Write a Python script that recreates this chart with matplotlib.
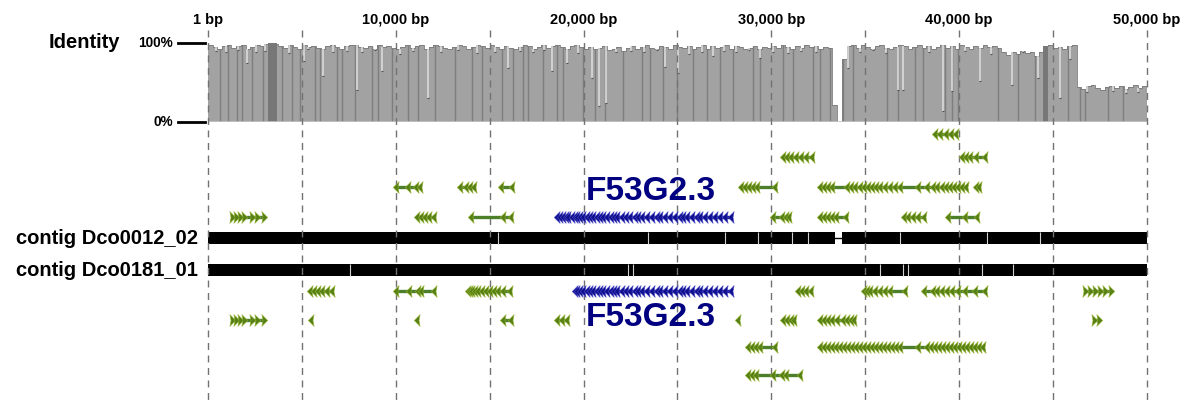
import numpy as np
import matplotlib.pyplot as plt
from matplotlib.path import Path

plt.rcParams['font.family'] = ['Liberation Sans', 'DejaVu Sans']

# ---- identity track: percent identity in 250 bp windows ----
identity = [
    97, 95, 93, 96, 98, 94, 96, 97, 92, 95, 98, 96, 99, 100, 99, 96, 94, 97, 95, 93,
    97, 95, 96, 94, 92, 96, 97, 95, 93, 96, 97, 98, 95, 94, 96, 93, 97, 95, 96, 94,
    92, 95, 97, 94, 96, 98, 93, 95, 97, 96, 94, 92, 95, 97, 96, 93, 95, 98, 96, 94,
    97, 95, 93, 96, 94, 92, 95, 97, 96, 93, 95, 97, 94, 96, 98, 95, 93, 96, 97, 95,
    93, 95, 92, 94, 96, 91, 93, 95, 90, 94, 96, 93, 95, 97, 94, 92, 96, 95, 93, 97,
    95, 94, 96, 92, 95, 97, 93, 96, 94, 95, 97, 93, 96, 95, 92, 94, 96, 93, 95, 94,
    96, 94, 97, 95, 93, 96, 94, 97, 95, 96, 93, 95, 94, 22, 0, 80, 96, 98, 94, 97,
    95, 93, 96, 98, 94, 92, 95, 97, 96, 93, 95, 98, 94, 96, 92, 95, 97, 94, 96, 93,
    97, 95, 93, 96, 94, 97, 95, 96, 94, 88, 85, 89, 86, 90, 87, 89, 84, 88, 96, 97,
    94, 95, 92, 96, 97, 44, 42, 45, 47, 43, 41, 44, 46, 43, 45, 42, 44, 47, 43, 45,
]
window_kb = 0.25

# narrow drops in identity (kb, percent)
dip_kb = [2.08, 5.11, 6.12, 7.93, 9.27, 11.72, 15.97, 18.32, 19.12, 20.45, 20.82,
          21.19, 24.33, 25.03, 26.89, 29.39, 34.08, 36.74, 37.01, 39.14, 39.62,
          41.11, 42.81, 44.20, 45.37, 47.60,
          0.45, 0.95, 1.60, 2.55, 3.05, 4.30, 5.35, 6.65, 7.40, 8.20, 8.90, 10.20,
          10.90, 12.40, 13.30, 14.30, 15.30, 16.60, 17.30, 17.90, 19.70, 21.70,
          22.50, 23.20, 23.90, 25.60, 26.30, 27.50, 28.10, 28.80, 30.10, 30.90,
          31.60, 32.40, 34.70, 35.40, 36.10, 38.40, 40.30, 41.70, 43.40, 45.90,
          46.80, 48.20, 48.90, 49.50]
dip_pct = [75, 77, 58, 40, 65, 30, 68, 65, 75, 56, 20,
           24, 70, 62, 84, 81, 68, 40, 40, 14, 39,
           52, 47, 56, 30, 58,
           90, 88, 91, 89, 90, 87, 92, 88, 90, 89, 91, 86,
           90, 88, 91, 87, 89, 90, 88, 91, 87, 89,
           90, 88, 91, 86, 89, 90, 88, 91, 89, 87,
           90, 88, 89, 91, 87, 88, 90, 86, 89, 80,
           38, 39, 37, 38]

# windows covered by more than one alignment (kb)
dark_kb = [0.64, 1.07, 1.54, 1.81, 2.34, 2.93, 3.94, 4.47, 4.90, 5.70, 5.96, 6.87,
           7.14, 7.83, 8.73, 9.05, 9.80, 10.65, 11.18, 12.09, 13.15, 14.06, 14.59,
           15.66, 16.24, 16.77, 17.04, 17.84, 18.58, 18.90, 19.97, 20.61, 21.14,
           22.10, 23.11, 23.54, 24.23, 24.97, 25.83, 26.57, 27.26, 27.96, 29.02,
           29.39, 30.62, 31.15, 32.22, 32.59, 33.12, 33.81, 34.35, 36.16, 36.74,
           37.65, 38.07, 39.24, 39.62, 39.94, 42.07, 43.13, 44.04, 45.79, 46.43,
           46.70, 47.92, 48.72]
dark_blocks_kb = [(3.20, 3.67), (44.46, 44.73)]

tick_kb = [0, 10, 20, 30, 40, 50]
tick_labels = ['1 bp', '10,000 bp', '20,000 bp', '30,000 bp', '40,000 bp', '50,000 bp']
grid_kb = np.arange(0, 50.1, 5)

# ---- contigs ----
contig_names = ['contig Dco0012_02', 'contig Dco0181_01']
contig_len_kb = 50.0
contig1_gap_kb = (33.39, 33.76)
contig1_breaks_kb = [15.44, 23.43, 27.53, 29.29, 31.10, 31.95, 36.85, 41.48, 44.30]
contig2_breaks_kb = [7.56, 22.36, 22.63, 35.78, 37.01, 37.27, 41.21, 42.87]

# ---- gene models: (strand, exon positions in kb) ----
genes_above = [
    [('-', [38.71, 38.98, 39.30, 39.56, 39.83])],
    [('-', [30.62, 30.83, 31.04, 31.31, 31.58, 31.84, 32.16]),
     ('-', [40.15, 40.36, 40.58, 40.89, 41.37])],
    [('-', [10.01, 10.65, 11.08, 11.29]),
     ('-', [13.42, 13.74, 13.95, 14.16]),
     ('-', [15.60, 16.19]),
     ('-', [28.38, 28.59, 28.81, 29.02, 29.23, 30.19]),
     ('-', [32.59, 32.80, 33.01, 33.23, 34.03, 34.24, 34.45, 34.72, 34.93, 35.14,
            35.36, 35.57, 35.78, 36.05, 36.32, 36.58, 36.85, 37.81, 38.29, 38.61,
            38.82, 39.08, 39.30, 39.51, 39.72, 39.94, 40.15, 40.36]),
     ('-', [40.89, 41.05])],
    [('+', [1.28, 1.49, 1.70, 1.92, 2.34, 2.61, 2.98]),
     ('-', [11.13, 11.34, 11.55, 11.77, 12.03]),
     ('-', [14.00, 15.71, 16.13]),
     ('-', [30.09, 30.56, 30.78, 30.94]),
     ('-', [32.59, 32.80, 33.01, 33.23, 33.44, 33.97]),
     ('-', [37.06, 37.27, 37.54, 37.81, 38.13]),
     ('-', [39.40, 40.31, 40.95])],
]

genes_below = [
    [('-', [5.43, 5.64, 5.86, 6.07, 6.34, 6.60]),
     ('-', [10.01, 10.70, 11.18, 11.34, 12.03]),
     ('-', [13.84, 13.95, 14.06, 14.22, 14.38, 14.59, 14.80, 15.02, 15.23, 15.44,
            15.71, 16.08]),
     ('-', [31.42, 31.63, 31.84, 32.11]),
     ('-', [34.93, 35.09, 35.25, 35.52, 35.78, 36.05, 36.32, 37.11]),
     ('-', [38.13, 38.61, 38.82, 39.08, 39.35, 39.62, 39.94, 40.31, 40.84, 41.37]),
     ('+', [46.70, 46.96, 47.23, 47.50, 47.76, 48.08])],
    [('+', [1.28, 1.49, 1.70, 1.92, 2.34, 2.61, 2.98]),
     ('-', [5.48]),
     ('-', [11.13]),
     ('-', [15.71, 16.13]),
     ('-', [18.58, 18.85, 19.12]),
     ('-', [28.22]),
     ('-', [30.62, 30.83, 31.04, 31.20]),
     ('-', [32.59, 32.80, 33.01, 33.23, 33.49, 33.81, 34.03, 34.24, 34.40]),
     ('+', [47.18, 47.44])],
    [('-', [28.75, 28.97, 29.18, 29.39, 30.19]),
     ('-', [32.59, 32.80, 33.01, 33.23, 33.44, 33.65, 33.86, 34.08, 34.29, 34.50,
            34.72, 34.93, 35.14, 35.36, 35.57, 35.78, 36.00, 36.21, 36.42, 36.64,
            36.85, 37.81, 38.29, 38.50, 38.71, 38.93, 39.14, 39.35, 39.56, 39.78,
            39.99, 40.20, 40.42, 40.63, 40.84, 41.05, 41.26])],
    [('-', [28.75, 28.97, 29.18, 30.09, 30.56, 30.78, 31.52])],
]

# F53G2.3 exons (kb)
f53_exons_top = [18.58, 18.74, 18.90, 19.06, 19.17, 19.38, 19.54, 19.65, 19.81, 19.97,
                 20.18, 20.34, 20.50, 20.71, 20.87, 21.03, 21.25, 21.46, 21.62, 21.78,
                 22.04, 22.26, 22.47, 22.74, 22.90, 23.11, 23.38, 23.64, 23.91, 24.07,
                 24.33, 24.60, 24.87, 25.13, 25.29, 25.51, 25.77, 26.04, 26.20, 26.46,
                 26.73, 27.00, 27.26, 27.53, 27.85]
f53_exons_bottom = [x for x in f53_exons_top if x >= 19.5]
f53_name = 'F53G2.3'

# ---- layout (figure pixels; 18.78 px per kb, 1 bp at x=208) ----
px_per_kb = 18.78
x0_px = 208
rows_above_y = [134, 157, 187, 217]
rows_below_y = [291, 320, 347, 375]
contig_y = [238, 270]

green_face = '#567f16'
green_edge = '#98b532'
green_line = '#4d7f2a'
blue_face = '#10108f'
blue_edge = '#4a4ac8'

fig = plt.figure(figsize=(11.96, 4), dpi=100)
ax = fig.add_axes([0, 0, 1, 1])
ax.set_xlim(-x0_px / px_per_kb, (1196 - x0_px) / px_per_kb)
ax.set_ylim(400, 0)
ax.axis('off')
ax.set_zorder(2)
ax.patch.set_alpha(0)

# identity plot sits in its own axes: 100% at y=43 px, 0% at y=122 px
ax_id = fig.add_axes([x0_px / 1196, (400 - 122) / 400, 50 * px_per_kb / 1196, 79 / 400])
ax_id.set_xlim(0, 50)
ax_id.set_ylim(0, 100)
ax_id.axis('off')
ax_id.set_zorder(1)

ident = np.array(identity, dtype=float)
left = np.arange(len(ident)) * window_kb
ax_id.bar(left, ident, width=window_kb, align='edge', color='#a2a2a2', linewidth=0)
ax_id.step(np.append(left, 50), np.append(ident, ident[-1]), where='post',
           color='#7a7a7a', lw=0.6)


def ident_at(kb):
    i = min(int(kb / window_kb), len(ident) - 1)
    return ident[i]


for kb in dark_kb:
    ax_id.vlines(kb, 0, ident_at(kb), color='#7e7e7e', lw=1.0)
for a, b in dark_blocks_kb:
    ax_id.bar(a, ident_at((a + b) / 2), width=b - a, align='edge', color='#777777', lw=0)
for kb, p in zip(dip_kb, dip_pct):
    top = ident_at(kb)
    if p < top:
        ax_id.vlines(kb, p, top, color='#dadada', lw=1.2)
        ax_id.plot(kb, p, marker='_', color='#555555', ms=2, mew=0.8)
ax_id.axhline(0, color='#c4c4c4', lw=1.2)

# grid of dashed position lines
ax.vlines(grid_kb, 30, 400, colors='#727272', linestyles=(0, (5, 4)), lw=1, zorder=6)

for kb, lab in zip(tick_kb, tick_labels):
    ax.text(kb, 20, lab, ha='center', va='center', fontsize=10.5, fontweight='bold')

ax.text(-4.7, 42, 'Identity', ha='right', va='center', fontsize=14.5, fontweight='bold')
for pct_y, lab in [(43, '100%'), (122, '0%')]:
    ax.text(-1.86, pct_y, lab, ha='right', va='center', fontsize=9.8, fontweight='bold')
    ax.plot([-1.60, -0.16], [pct_y, pct_y], color='black', lw=2)

# contigs
for y, name in zip(contig_y, contig_names):
    ax.text(-0.53, y, name, ha='right', va='center', fontsize=14.5, fontweight='bold')

y1 = contig_y[0]
ax.barh(y1, contig1_gap_kb[0], left=0, height=12, color='black', zorder=3)
ax.barh(y1, contig_len_kb - contig1_gap_kb[1], left=contig1_gap_kb[1], height=12,
        color='black', zorder=3)
ax.plot(contig1_gap_kb, [y1, y1], color='black', lw=1, zorder=3)
ax.vlines(contig1_breaks_kb, y1 - 6, y1 + 6, colors='#d0d0d0', lw=0.8, zorder=4)

y2 = contig_y[1]
ax.barh(y2, contig_len_kb, left=0, height=12, color='black', zorder=3)
ax.vlines(contig2_breaks_kb, y2 - 6, y2 + 6, colors='#d0d0d0', lw=0.8, zorder=4)

# gene models
left_arrow = Path([(-0.55, 0), (0.45, 1), (0.25, 0), (0.45, -1), (-0.55, 0)],
                  [Path.MOVETO, Path.LINETO, Path.LINETO, Path.LINETO, Path.CLOSEPOLY])
right_arrow = Path([(0.55, 0), (-0.45, 1), (-0.25, 0), (-0.45, -1), (0.55, 0)],
                   [Path.MOVETO, Path.LINETO, Path.LINETO, Path.LINETO, Path.CLOSEPOLY])


def draw_gene(y, strand, exons, face, edge, line):
    if len(exons) > 1:
        ax.plot([min(exons), max(exons)], [y, y], color=line, lw=2.4,
                solid_capstyle='butt', zorder=7)
    marker = left_arrow if strand == '-' else right_arrow
    ax.plot(exons, [y] * len(exons), ls='none', marker=marker, ms=8.5,
            mfc=face, mec=edge, mew=0.4, zorder=8)


for y, row in zip(rows_above_y, genes_above):
    for strand, exons in row:
        draw_gene(y, strand, exons, green_face, green_edge, green_line)
for y, row in zip(rows_below_y, genes_below):
    for strand, exons in row:
        draw_gene(y, strand, exons, green_face, green_edge, green_line)

draw_gene(rows_above_y[3], '-', f53_exons_top, blue_face, blue_edge, blue_face)
draw_gene(rows_below_y[0], '-', f53_exons_bottom, blue_face, blue_edge, blue_face)

ax.text(23.6, 191, f53_name, ha='center', va='center', fontsize=24,
        fontweight='bold', color='#000080', zorder=9)
ax.text(23.6, 318, f53_name, ha='center', va='center', fontsize=24,
        fontweight='bold', color='#000080', zorder=9)

fig.savefig('out.png', dpi=100, facecolor='white')
